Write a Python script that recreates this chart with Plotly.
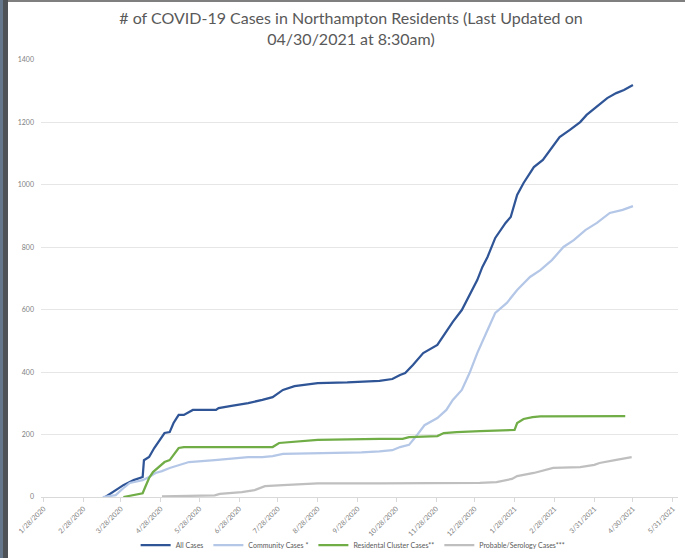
import plotly.graph_objects as go

# ---- data ----
all_dates = ["2020-03-16", "2020-03-30", "2020-04-07", "2020-04-14", "2020-04-15", "2020-04-19",
             "2020-04-23", "2020-04-27", "2020-05-01", "2020-05-05", "2020-05-08", "2020-05-10",
             "2020-05-12", "2020-05-16", "2020-05-20", "2020-05-23", "2020-06-10", "2020-06-12",
             "2020-06-22", "2020-07-05", "2020-07-16", "2020-07-24", "2020-08-01", "2020-08-10",
             "2020-08-28", "2020-09-20", "2020-10-15", "2020-10-25", "2020-10-31", "2020-11-04",
             "2020-11-10", "2020-11-18", "2020-11-29", "2020-12-05", "2020-12-11", "2020-12-18",
             "2020-12-23", "2020-12-30", "2021-01-03", "2021-01-07", "2021-01-13", "2021-01-21",
             "2021-01-25", "2021-01-30", "2021-02-04", "2021-02-12", "2021-02-19", "2021-02-26",
             "2021-03-04", "2021-03-12", "2021-03-20", "2021-03-25", "2021-04-02", "2021-04-10",
             "2021-04-17", "2021-04-23", "2021-04-30"]
all_cases = [0, 38, 54, 64, 118, 128,
             157, 183, 205, 208, 237, 250,
             263, 263, 272, 279, 279, 285,
             292, 301, 311, 320, 343, 355,
             365, 367, 372, 378, 391, 397,
             423, 461, 487, 525, 561, 599,
             641, 695, 737, 769, 830, 878,
             897, 968, 1006, 1057, 1080, 1118,
             1153, 1176, 1201, 1224, 1250, 1278,
             1294, 1304, 1320]

comm_dates = ["2020-03-14", "2020-03-24", "2020-03-31", "2020-04-04", "2020-04-14", "2020-04-19",
              "2020-04-24", "2020-04-29", "2020-05-05", "2020-05-12", "2020-05-20", "2020-06-09",
              "2020-06-24", "2020-07-05", "2020-07-16", "2020-07-24", "2020-08-01", "2020-08-28",
              "2020-10-01", "2020-10-15", "2020-10-25", "2020-10-31", "2020-11-07", "2020-11-12",
              "2020-11-19", "2020-11-29", "2020-12-06", "2020-12-11", "2020-12-18", "2020-12-24",
              "2020-12-30", "2021-01-07", "2021-01-13", "2021-01-22", "2021-01-30", "2021-02-09",
              "2021-02-17", "2021-02-26", "2021-03-07", "2021-03-15", "2021-03-24", "2021-04-02",
              "2021-04-12", "2021-04-22", "2021-04-30"]
comm_cases = [0, 6, 32, 45, 54, 64,
              77, 83, 93, 103, 112, 118,
              125, 128, 128, 131, 138, 140,
              143, 146, 150, 160, 167, 192,
              230, 253, 279, 311, 343, 397,
              461, 535, 590, 622, 663, 705,
              727, 759, 801, 823, 855, 878,
              910, 920, 932]

res_dates = ["2020-03-30", "2020-04-14", "2020-04-16", "2020-04-19", "2020-04-22", "2020-04-26",
             "2020-05-01", "2020-05-05", "2020-05-08", "2020-05-12", "2020-05-16", "2020-07-24",
             "2020-07-29", "2020-08-10", "2020-08-28", "2020-10-15", "2020-11-02", "2020-11-07",
             "2020-11-29", "2020-12-04", "2020-12-14", "2021-01-01", "2021-01-28", "2021-01-30",
             "2021-02-04", "2021-02-11", "2021-02-17", "2021-04-24"]
res_cases = [0, 12, 32, 61, 80, 93,
             112, 118, 135, 157, 160, 160,
             173, 177, 183, 186, 186, 192,
             195, 205, 208, 211, 215, 237,
             250, 256, 258, 259]

prob_dates = ["2020-04-29", "2020-06-09", "2020-06-13", "2020-06-30", "2020-07-10", "2020-07-18",
              "2020-08-01", "2020-08-14", "2020-08-28", "2020-10-15", "2021-01-01", "2021-01-14",
              "2021-01-26", "2021-01-30", "2021-02-12", "2021-02-27", "2021-03-20", "2021-03-31",
              "2021-04-04", "2021-04-16", "2021-04-29"]
prob_cases = [2, 5, 10, 16, 22, 35,
              38, 42, 44, 44, 45, 48,
              58, 67, 77, 93, 96, 103,
              109, 118, 128]

series_names = ["All Cases", "Community Cases *", "Residental Cluster Cases**", "Probable/Serology Cases***"]
series_colors = ["#2F5597", "#B4C7E7", "#70AD47", "#BFBFBF"]

tick_dates = ["2020-01-28", "2020-02-28", "2020-03-28", "2020-04-28", "2020-05-28", "2020-06-28",
              "2020-07-28", "2020-08-28", "2020-09-28", "2020-10-28", "2020-11-28", "2020-12-28",
              "2021-01-28", "2021-02-28", "2021-03-31", "2021-04-30", "2021-05-31"]
tick_labels = ["1/28/2020", "2/28/2020", "3/28/2020", "4/28/2020", "5/28/2020", "6/28/2020",
               "7/28/2020", "8/28/2020", "9/28/2020", "10/28/2020", "11/28/2020", "12/28/2020",
               "1/28/2021", "2/28/2021", "3/31/2021", "4/30/2021", "5/31/2021"]

y_ticks = [0, 200, 400, 600, 800, 1000, 1200, 1400]

# ---- figure ----
fig = go.Figure()
for name, color, xs, ys in zip(series_names, series_colors,
                               [all_dates, comm_dates, res_dates, prob_dates],
                               [all_cases, comm_cases, res_cases, prob_cases]):
    fig.add_trace(go.Scatter(x=xs, y=ys, mode="lines", name=name,
                             line=dict(color=color, width=2.25)))

W, H = 685, 558
ml, mr, mt, mb = 41, 7, 60, 61
pw, ph = W - ml - mr, H - mt - mb

def px_x(p):
    return (p - ml) / pw

def px_y(p):
    return (H - mb - p) / ph

fig.update_layout(
    width=W, height=H,
    margin=dict(l=ml, r=mr, t=mt, b=mb, autoexpand=False),
    paper_bgcolor="white", plot_bgcolor="white",
    title=dict(text="# of COVID-19 Cases in Northampton Residents (Last Updated on<br>04/30/2021 at 8:30am)",
               x=351 / W, xanchor="center", xref="container", y=1 - 24 / H, yanchor="top",
               yref="container",
               font=dict(family="Lato", size=16, color="#595959")),
    font=dict(family="Lato", color="#7F7F7F"),
    showlegend=True,
    legend=dict(orientation="h", x=0.49, xanchor="center", y=px_y(545), yanchor="middle",
                font=dict(size=7, color="#595959"), itemwidth=30, bgcolor="rgba(0,0,0,0)"),
    xaxis=dict(type="date", range=["2020-01-26", "2021-06-04"], automargin=False,
               tickmode="array", tickvals=tick_dates, ticktext=tick_labels,
               tickangle=-45, tickfont=dict(size=7, color="#7F7F7F"),
               showgrid=False, showline=True, linecolor="#D9D9D9", linewidth=1,
               ticks="outside", ticklen=4, tickcolor="#D9D9D9", zeroline=False),
    yaxis=dict(range=[0, 1400], tickmode="array", tickvals=y_ticks, automargin=False,
               tickfont=dict(size=7, color="#7F7F7F"),
               showgrid=True, gridcolor="#E6E6E6", gridwidth=1,
               zeroline=False, showline=False, ticks="", ticklabelstandoff=6),
)

# window frame at the left and top edges of the screenshot
fig.add_shape(type="rect", xref="paper", yref="paper", layer="above",
              x0=px_x(0), x1=px_x(3), y0=px_y(H), y1=px_y(0),
              fillcolor="#65778A", line=dict(width=0))
fig.add_shape(type="rect", xref="paper", yref="paper", layer="above",
              x0=px_x(3), x1=px_x(8), y0=px_y(H), y1=px_y(0),
              fillcolor="#4F5358", line=dict(width=0))
fig.add_shape(type="rect", xref="paper", yref="paper", layer="above",
              x0=px_x(8), x1=px_x(W), y0=px_y(2), y1=px_y(0),
              fillcolor="#7F7F7F", line=dict(width=0))

fig.write_html("out.html", config={"displayModeBar": False},
               post_script="document.body.style.margin='0';document.body.style.overflow='hidden';")
